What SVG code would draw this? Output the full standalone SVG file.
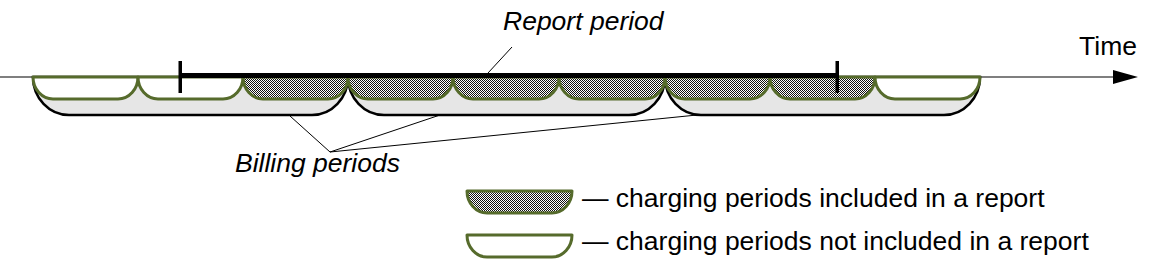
<svg xmlns="http://www.w3.org/2000/svg" width="1153" height="269" viewBox="0 0 1153 269">
<defs>
<pattern id="hatch" width="2" height="2" patternUnits="userSpaceOnUse">
<rect width="2" height="2" fill="#ffffff"/>
<rect x="0" y="0" width="1" height="1" fill="#111111"/>
<rect x="1" y="1" width="1" height="1" fill="#111111"/>
</pattern>
</defs>
<style>
.txt{font-family:"Liberation Sans",Arial,sans-serif;font-size:26.5px;fill:#000}
.it{font-style:italic}
.bill{fill:#e6e6e6;stroke:#000;stroke-width:2.5}
.cup{stroke:#566b2c;stroke-width:3;stroke-linejoin:round}
.inc{fill:url(#hatch)}
.exc{fill:#ffffff}
.thin{stroke:#000;stroke-width:1;fill:none}
</style>
<g id="axis">
<line x1="0" y1="77" x2="1118" y2="77" stroke="#000" stroke-width="1.2"/>
<polygon points="1113,70 1138,77 1113,84" fill="#000"/>
<text class="txt" x="1137" y="55" text-anchor="end">Time</text>
</g>
<g id="billing-periods">
<path class="bill" d="M33,77 A36 38 0 0 0 69,115 H312 A36 38 0 0 0 348,77 Z"/>
<path class="bill" d="M348,77 A36 38 0 0 0 384,115 H629 A36 38 0 0 0 665,77 Z"/>
<path class="bill" d="M665,77 A36 38 0 0 0 701,115 H944 A36 38 0 0 0 980,77 Z"/>
</g>
<g id="charging-periods">
<path class="cup exc" d="M33,77 A20 22 0 0 0 53,99 H118 A20 22 0 0 0 138,77 Z"/>
<path class="cup exc" d="M138,77 A20 22 0 0 0 158,99 H223 A20 22 0 0 0 243,77 Z"/>
<path class="cup inc" d="M243,77 A20 22 0 0 0 263,99 H328 A20 22 0 0 0 348,77 Z"/>
<path class="cup inc" d="M348,77 A20 22 0 0 0 368,99 H433 A20 22 0 0 0 453,77 Z"/>
<path class="cup inc" d="M453,77 A20 22 0 0 0 473,99 H539 A20 22 0 0 0 559,77 Z"/>
<path class="cup inc" d="M559,77 A20 22 0 0 0 579,99 H645 A20 22 0 0 0 665,77 Z"/>
<path class="cup inc" d="M665,77 A20 22 0 0 0 685,99 H750 A20 22 0 0 0 770,77 Z"/>
<path class="cup inc" d="M770,77 A20 22 0 0 0 790,99 H855 A20 22 0 0 0 875,77 Z"/>
<path class="cup exc" d="M875,77 A20 22 0 0 0 895,99 H960 A20 22 0 0 0 980,77 Z"/>
</g>
<g id="report-period">
<rect x="180" y="73" width="657" height="5" fill="#000"/>
<rect x="178.5" y="61" width="3.5" height="32" fill="#000"/>
<rect x="835.5" y="61" width="3.5" height="32" fill="#000"/>
<text class="txt it" x="503" y="30">Report period</text>
</g>
<g id="connectors">
<line class="thin" x1="512" y1="47" x2="488" y2="73" stroke="#444"/>
<line class="thin" x1="330" y1="152" x2="290" y2="116"/>
<line class="thin" x1="330" y1="152" x2="440" y2="115"/>
<line class="thin" x1="330" y1="152" x2="697" y2="115"/>
</g>
<g id="billing-label">
<text class="txt it" x="235" y="172">Billing periods</text>
</g>
<g id="legend">
<path class="cup inc" d="M467,191 A20 22 0 0 0 487,213 H552 A20 22 0 0 0 572,191 Z"/>
<text class="txt" x="582" y="207">— charging periods included in a report</text>
<path class="cup exc" d="M467,235 A20 22 0 0 0 487,257 H552 A20 22 0 0 0 572,235 Z"/>
<text class="txt" x="582" y="250">— charging periods not included in a report</text>
</g>
</svg>
